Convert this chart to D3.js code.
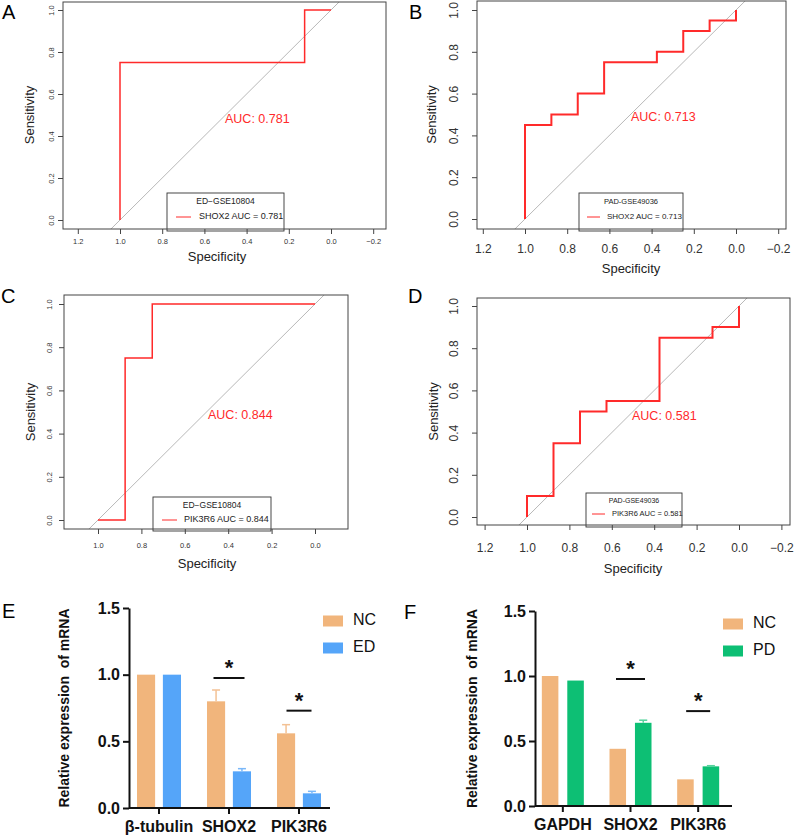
<!DOCTYPE html>
<html>
<head>
<meta charset="utf-8">
<script src="https://cdn.jsdelivr.net/npm/d3@7"></script>
<style>
  body { margin: 0; background: #fff; }
  svg { display: block; font-family: "Liberation Sans", Arial, sans-serif; }
</style>
</head>
<body>
<svg id="fig" width="794" height="837"></svg>
<script>
// ROC curves (specificity, sensitivity)
const rocASpec = [1, 1, 0.125, 0.125, 0];
const rocASens = [0, 0.75, 0.75, 1, 1];
const rocBSpec = [1, 1, 0.875, 0.875, 0.75, 0.75, 0.625, 0.625, 0.375, 0.375, 0.25, 0.25, 0.125, 0.125, 0, 0];
const rocBSens = [0, 0.45, 0.45, 0.5, 0.5, 0.6, 0.6, 0.75, 0.75, 0.8, 0.8, 0.9, 0.9, 0.95, 0.95, 1];
const rocCSpec = [1, 0.875, 0.875, 0.75, 0.75, 0];
const rocCSens = [0, 0, 0.75, 0.75, 1, 1];
const rocDSpec = [1, 1, 0.875, 0.875, 0.75, 0.75, 0.625, 0.625, 0.375, 0.375, 0.125, 0.125, 0, 0];
const rocDSens = [0, 0.1, 0.1, 0.35, 0.35, 0.5, 0.5, 0.55, 0.55, 0.85, 0.85, 0.9, 0.9, 1];

const specTicksWide = [1.2, 1.0, 0.8, 0.6, 0.4, 0.2, 0.0, -0.2];
const specTicksNarrow = [1.0, 0.8, 0.6, 0.4, 0.2, 0.0];
const sensTicks = [0.0, 0.2, 0.4, 0.6, 0.8, 1.0];

// qPCR bars
const groupsE = ["NC", "ED"];
const catsE = ["β-tubulin", "SHOX2", "PIK3R6"];
const ncE = [1.0, 0.80, 0.56];
const ncErrE = [0, 0.085, 0.065];
const edE = [1.0, 0.275, 0.11];
const edErrE = [0, 0.02, 0.015];
const sigE = [null, 0.975, 0.73];

const groupsF = ["NC", "PD"];
const catsF = ["GAPDH", "SHOX2", "PIK3R6"];
const ncF = [1.0, 0.44, 0.205];
const ncErrF = [0, 0, 0];
const pdF = [0.965, 0.64, 0.305];
const pdErrF = [0, 0.02, 0.005];
const sigF = [null, 0.977, 0.73];

const barTicks = [0.0, 0.5, 1.0, 1.5];

const svg = d3.select("#fig");
const red = "#ff2a2a";

function drawRoc(cfg) {
  const g = svg.append("g");
  const x = d3.scaleLinear().domain([1, 0]).range(cfg.xr);
  const y = d3.scaleLinear().domain([0, 1]).range(cfg.yr);
  const f = cfg.frame; // [left, top, right, bottom]
  const clipId = "clip" + cfg.letter;

  g.append("clipPath").attr("id", clipId)
    .append("rect").attr("x", f[0]).attr("y", f[1])
    .attr("width", f[2] - f[0]).attr("height", f[3] - f[1]);

  // diagonal reference line
  g.append("line")
    .attr("clip-path", `url(#${clipId})`)
    .attr("x1", x(2)).attr("y1", y(-1))
    .attr("x2", x(-1)).attr("y2", y(2))
    .attr("stroke", "#b0b0b0").attr("stroke-width", 0.9);

  // legend box (drawn before the curve, runs to frame bottom)
  const lb = cfg.legend;
  g.append("rect")
    .attr("x", lb.x0).attr("y", lb.y0)
    .attr("width", lb.x1 - lb.x0).attr("height", f[3] - lb.y0 + 2)
    .attr("fill", "#fff").attr("stroke", "#333").attr("stroke-width", 0.9);
  g.append("text")
    .attr("x", (lb.x0 + lb.x1) / 2).attr("y", lb.titleY)
    .attr("text-anchor", "middle").attr("dominant-baseline", "middle")
    .attr("font-size", lb.fs).attr("fill", "#222").text(cfg.legendTitle);
  g.append("line")
    .attr("x1", lb.lineX0).attr("x2", lb.lineX1)
    .attr("y1", lb.lineY).attr("y2", lb.lineY)
    .attr("stroke", red).attr("stroke-width", 1);
  g.append("text")
    .attr("x", lb.textX).attr("y", lb.lineY)
    .attr("dominant-baseline", "middle")
    .attr("font-size", lb.fs + 0.5).attr("fill", "#222").text(cfg.legendText);

  // ROC curve
  const pts = cfg.spec.map((s, i) => [s, cfg.sens[i]]);
  g.append("path")
    .datum(pts)
    .attr("fill", "none").attr("stroke", red)
    .attr("stroke-width", cfg.lw)
    .attr("d", d3.line().x(d => x(d[0])).y(d => y(d[1])));

  // AUC label
  g.append("text")
    .attr("x", cfg.aucX).attr("y", cfg.aucY)
    .attr("dominant-baseline", "middle")
    .attr("font-size", 12.5).attr("fill", red).text(cfg.aucText);

  // frame
  g.append("rect")
    .attr("x", f[0]).attr("y", f[1])
    .attr("width", f[2] - f[0]).attr("height", f[3] - f[1])
    .attr("fill", "none").attr("stroke", "#444").attr("stroke-width", 1);

  // x axis
  const xa = g.append("g").attr("transform", `translate(0,${f[3]})`)
    .call(d3.axisBottom(x).tickValues(cfg.xTicks).tickSize(5)
      .tickFormat(d => d < 0 ? "\u2212" + Math.abs(d).toFixed(1) : d.toFixed(1)));
  xa.select(".domain").remove();
  xa.selectAll("line").attr("stroke", "#444");
  xa.selectAll("text").attr("font-size", cfg.tfs).attr("fill", "#333")
    .attr("dy", cfg.tdy).attr("font-family", "Liberation Sans, Arial, sans-serif");

  // y axis, labels parallel to axis
  const ya = g.append("g").attr("transform", `translate(${f[0]},0)`)
    .call(d3.axisLeft(y).tickValues(sensTicks).tickSize(5).tickFormat(d3.format(".1f")));
  ya.select(".domain").remove();
  ya.selectAll("line").attr("stroke", "#444");
  ya.selectAll("text")
    .attr("font-size", cfg.tfs).attr("fill", "#333")
    .attr("font-family", "Liberation Sans, Arial, sans-serif")
    .attr("text-anchor", "middle").attr("x", 0).attr("dy", 0)
    .attr("transform", `translate(${cfg.ylabX - f[0]},0) rotate(-90)`)
    .attr("dominant-baseline", "middle");

  // titles
  g.append("text")
    .attr("x", cfg.specX).attr("y", cfg.specY)
    .attr("text-anchor", "middle").attr("dominant-baseline", "middle")
    .attr("font-size", 13).attr("fill", "#222").text("Specificity");
  g.append("text")
    .attr("transform", `translate(${cfg.sensX},${(y(0) + y(1)) / 2}) rotate(-90)`)
    .attr("text-anchor", "middle").attr("dominant-baseline", "middle")
    .attr("font-size", 13).attr("fill", "#222").text("Sensitivity");

  svg.append("text")
    .attr("x", cfg.letterX).attr("y", cfg.letterY)
    .attr("font-size", 20).attr("fill", "#000").text(cfg.letter);
}

drawRoc({
  letter: "A", letterX: 2, letterY: 19,
  spec: rocASpec, sens: rocASens,
  xr: [120, 331], yr: [220, 10], frame: [63, 2, 386, 229],
  xTicks: specTicksWide, tfs: 7.5, tdy: "0.9em", ylabX: 52, lw: 1.5,
  aucX: 225, aucY: 120, aucText: "AUC: 0.781",
  legend: { x0: 167, x1: 284, y0: 193, titleY: 202, lineX0: 176, lineX1: 191, lineY: 217, textX: 199, fs: 8.5 },
  legendTitle: "ED\u2212GSE10804", legendText: "SHOX2 AUC = 0.781",
  specX: 217, specY: 258, sensX: 31
});

drawRoc({
  letter: "B", letterX: 409, letterY: 19,
  spec: rocBSpec, sens: rocBSens,
  xr: [525, 736], yr: [219, 10], frame: [477, 1, 786, 229],
  xTicks: specTicksWide, tfs: 12, tdy: "1.3em", ylabX: 455, lw: 2,
  aucX: 631, aucY: 118, aucText: "AUC: 0.713",
  legend: { x0: 579, x1: 683, y0: 193, titleY: 202, lineX0: 587, lineX1: 600, lineY: 217, textX: 607, fs: 7.5 },
  legendTitle: "PAD-GSE49036", legendText: "SHOX2 AUC = 0.713",
  specX: 631, specY: 270, sensX: 433
});

drawRoc({
  letter: "C", letterX: 1, letterY: 303,
  spec: rocCSpec, sens: rocCSens,
  xr: [98, 315], yr: [520, 304], frame: [64, 295, 348, 529],
  xTicks: specTicksNarrow, tfs: 7.5, tdy: "1.5em", ylabX: 50, lw: 1.5,
  aucX: 208, aucY: 416, aucText: "AUC: 0.844",
  legend: { x0: 153, x1: 271, y0: 497, titleY: 506, lineX0: 162, lineX1: 177, lineY: 520, textX: 184, fs: 8.5 },
  legendTitle: "ED\u2212GSE10804", legendText: "PIK3R6 AUC = 0.844",
  specX: 207, specY: 565, sensX: 32
});

drawRoc({
  letter: "D", letterX: 408, letterY: 303,
  spec: rocDSpec, sens: rocDSens,
  xr: [527, 739], yr: [517, 306], frame: [477, 298, 790, 525],
  xTicks: specTicksWide, tfs: 12, tdy: "1.55em", ylabX: 455, lw: 2,
  aucX: 632, aucY: 417, aucText: "AUC: 0.581",
  legend: { x0: 586, x1: 682, y0: 493, titleY: 501, lineX0: 592, lineX1: 605, lineY: 514, textX: 612, fs: 7 },
  legendTitle: "PAD-GSE49036", legendText: "PIK3R6 AUC = 0.581",
  specX: 633, specY: 570, sensX: 435
});

// grouped bar charts
const colors = { NC: "#f1b57c", ED: "#55a5f9", PD: "#0dbf74" };
const errColors = { NC: "#f3c194", ED: "#7ab8f9", PD: "#55d39c" };

function drawBars(cfg) {
  const g = svg.append("g");
  const x = d3.scaleBand().domain(cfg.cats).range(cfg.xr).padding(0);
  const xs = d3.scaleBand().domain(cfg.groups).range([0, cfg.gw]).paddingInner(cfg.pin);
  const y = d3.scaleLinear().domain([0, 1.5]).range(cfg.yr);

  const rows = [];
  cfg.cats.forEach((c, i) => {
    cfg.groups.forEach((gr, j) => {
      rows.push({ cat: c, group: gr, v: cfg.vals[j][i], e: cfg.errs[j][i] });
    });
  });
  const bx = d => x(d.cat) + x.bandwidth() / 2 - cfg.gw / 2 + xs(d.group);

  g.selectAll("rect.bar").data(rows).join("rect")
    .attr("class", "bar")
    .attr("x", bx).attr("width", xs.bandwidth())
    .attr("y", d => y(d.v)).attr("height", d => y(0) - y(d.v))
    .attr("fill", d => colors[d.group]);

  // error whiskers (upper only)
  const er = rows.filter(d => d.e > 0);
  g.selectAll("line.err").data(er).join("line")
    .attr("class", "err")
    .attr("x1", d => bx(d) + xs.bandwidth() / 2).attr("x2", d => bx(d) + xs.bandwidth() / 2)
    .attr("y1", d => y(d.v)).attr("y2", d => y(d.v + d.e))
    .attr("stroke", d => errColors[d.group]).attr("stroke-width", 1.5);
  g.selectAll("line.cap").data(er).join("line")
    .attr("class", "cap")
    .attr("x1", d => bx(d) + xs.bandwidth() / 2 - 4).attr("x2", d => bx(d) + xs.bandwidth() / 2 + 4)
    .attr("y1", d => y(d.v + d.e)).attr("y2", d => y(d.v + d.e))
    .attr("stroke", d => errColors[d.group]).attr("stroke-width", 1.5);

  // significance marks
  cfg.cats.forEach((c, i) => {
    if (cfg.sig[i] == null) return;
    const cx = x(c) + x.bandwidth() / 2;
    g.append("line")
      .attr("x1", cx - cfg.sigHalf[i]).attr("x2", cx + cfg.sigHalf[i])
      .attr("y1", y(cfg.sig[i])).attr("y2", y(cfg.sig[i]))
      .attr("stroke", "#111").attr("stroke-width", 2);
    g.append("text")
      .attr("x", cx).attr("y", y(cfg.sig[i]) - 3)
      .attr("text-anchor", "middle")
      .attr("font-size", 22).attr("font-weight", "bold").attr("fill", "#111").text("*");
  });

  // axes
  const ya = g.append("g").attr("transform", `translate(${cfg.axisX},0)`)
    .call(d3.axisLeft(y).tickValues(barTicks).tickSize(6).tickSizeOuter(0).tickFormat(d3.format(".1f")));
  ya.select(".domain").attr("stroke", "#111").attr("stroke-width", 2);
  ya.selectAll(".tick line").attr("stroke", "#111").attr("stroke-width", 2);
  ya.selectAll("text").attr("font-size", 16).attr("font-weight", "bold").attr("fill", "#111")
    .attr("font-family", "Liberation Sans, Arial, sans-serif").attr("x", -9);

  const xa = g.append("g").attr("transform", `translate(0,${y(0)})`)
    .call(d3.axisBottom(x).tickSize(6).tickSizeOuter(0));
  xa.select(".domain").attr("d", `M${cfg.axisX},0H${cfg.axisEnd}`)
    .attr("stroke", "#111").attr("stroke-width", 2);
  xa.selectAll(".tick line").attr("stroke", "#111").attr("stroke-width", 2);
  xa.selectAll("text").attr("font-size", 16).attr("font-weight", "bold").attr("fill", "#111")
    .attr("font-family", "Liberation Sans, Arial, sans-serif").attr("dy", "0.95em");

  g.append("text")
    .attr("transform", `translate(${cfg.titleX},${(y(0) + y(1.5)) / 2}) rotate(-90)`)
    .attr("text-anchor", "middle").attr("dominant-baseline", "middle")
    .attr("font-size", 14).attr("font-weight", "bold").attr("fill", "#111")
    .attr("xml:space", "preserve")
    .text("Relative expression  of mRNA");

  // legend
  cfg.groups.forEach((gr, j) => {
    const ly = cfg.legY + j * 27;
    g.append("rect").attr("x", cfg.legX).attr("y", ly - 5.5)
      .attr("width", 20).attr("height", 11).attr("fill", colors[gr]);
    g.append("text").attr("x", cfg.legX + 30).attr("y", ly)
      .attr("dominant-baseline", "middle")
      .attr("font-size", 16).attr("fill", "#111").text(gr);
  });

  svg.append("text")
    .attr("x", cfg.letterX).attr("y", cfg.letterY)
    .attr("font-size", 20).attr("fill", "#000").text(cfg.letter);
}

drawBars({
  letter: "E", letterX: 2, letterY: 618,
  cats: catsE, groups: groupsE, vals: [ncE, edE], errs: [ncErrE, edErrE], sig: sigE, sigHalf: [0, 15.5, 12.5],
  xr: [124, 334], gw: 44, pin: 0.3, yr: [808, 608], axisX: 129, axisEnd: 330,
  titleX: 65, legX: 323, legY: 621
});

drawBars({
  letter: "F", letterX: 404, letterY: 619,
  cats: catsF, groups: groupsF, vals: [ncF, pdF], errs: [ncErrF, pdErrF], sig: sigF, sigHalf: [0, 14.5, 12],
  xr: [529, 732], gw: 42, pin: 0.35, yr: [806, 611], axisX: 535, axisEnd: 732,
  titleX: 473, legX: 723, legY: 624
});
</script>
</body>
</html>
